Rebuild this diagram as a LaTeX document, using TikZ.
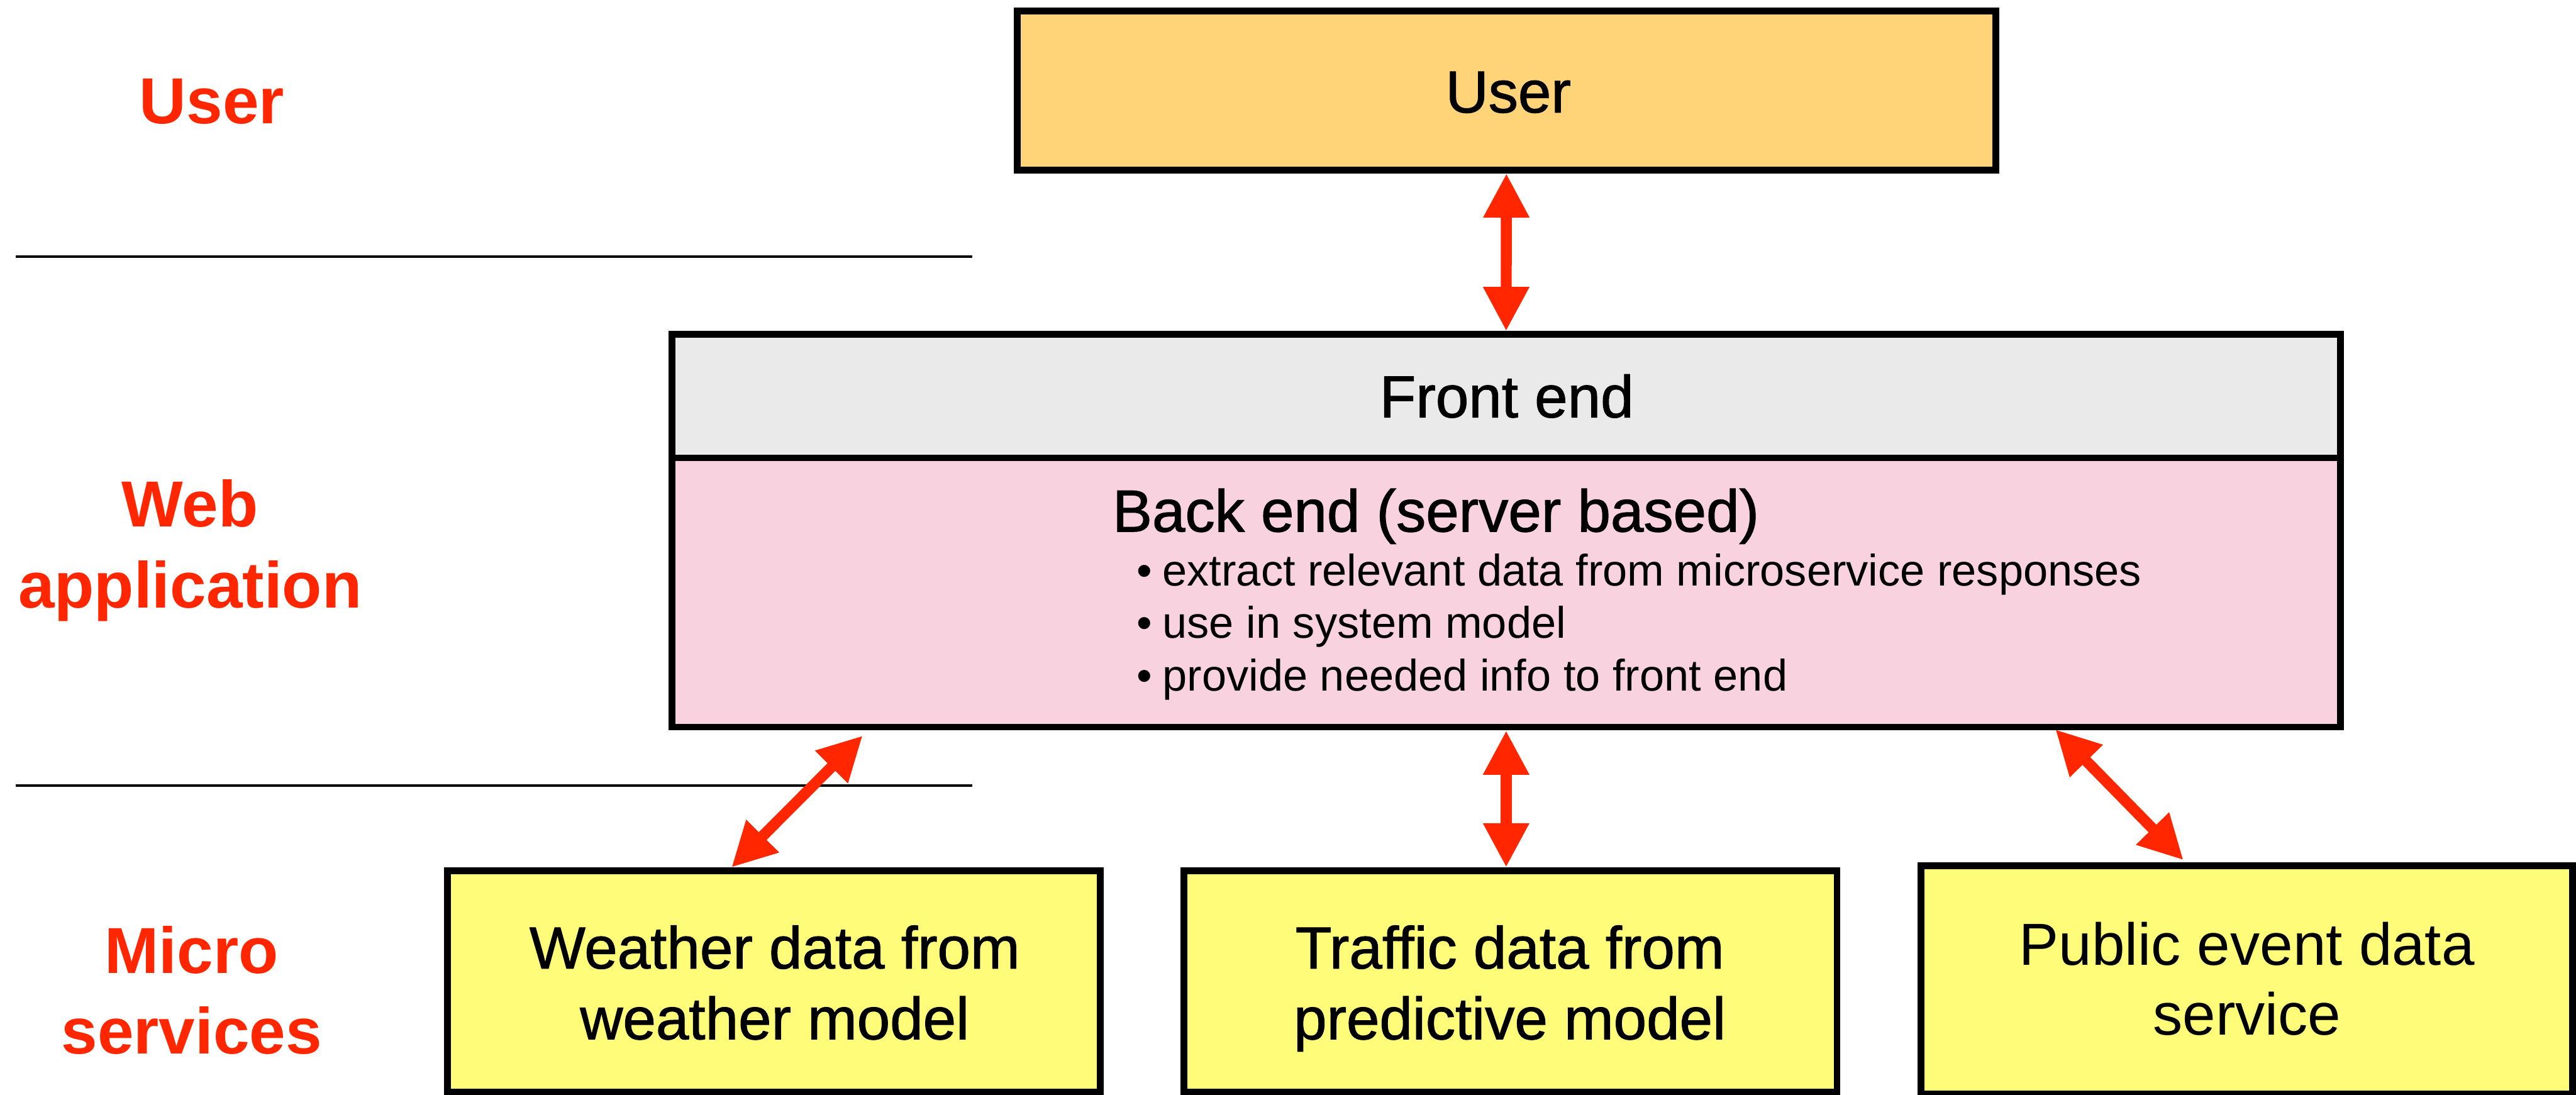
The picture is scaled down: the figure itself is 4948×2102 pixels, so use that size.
\documentclass[tikz,border=0pt]{standalone}
\usepackage{fontspec}
\setmainfont{Liberation Sans}
\newfontfamily\mediumsans[FakeBold=1.2]{Liberation Sans}
\usetikzlibrary{arrows.meta}
\definecolor{layerred}{HTML}{FF2600}
\definecolor{userfill}{HTML}{FFD479}
\definecolor{frontfill}{HTML}{EAEAEA}
\definecolor{backfill}{HTML}{F8D2DE}
\definecolor{servicefill}{HTML}{FFFC79}
\begin{document}
\begin{tikzpicture}[x=1pt, y=-1pt,
  panel/.style={draw=black, line width=13pt, inner sep=0pt, outer sep=6.5pt},
  boxtext/.style={inner sep=0pt, font=\mediumsans\fontsize{114pt}{136pt}\selectfont, align=center},
  plaintext/.style={inner sep=0pt, font=\fontsize{114pt}{134pt}\selectfont, align=center},
  layer/.style={inner sep=0pt, text=layerred, font=\bfseries\fontsize{125pt}{155pt}\selectfont, align=center},
  flow/.style={draw=layerred, line width=21pt,
    {Triangle[width=83pt,length=85pt]}-{Triangle[width=83pt,length=85pt]}},
  divider/.style={draw=black, line width=5pt}]

  % page frame
  \fill[white] (0,0) rectangle (4948,2102);
  \path[use as bounding box] (0,0) rectangle (4948,2102);

  % layer separators
  \coordinate (sepAL) at (30,493);
  \coordinate (sepAR) at (1868,493);
  \coordinate (sepBL) at (30,1508.5);
  \coordinate (sepBR) at (1868,1508.5);
  \draw[divider] (sepAL) -- (sepAR);
  \draw[divider] (sepBL) -- (sepBR);

  % layer names (multi-line nodes: base anchor sits on the last line)
  \node[layer, anchor=base] (lbluser) at (407,237) {User};
  \node[layer, anchor=base] (lblweb) at (365,1167) {Web\\application};
  \node[layer, anchor=base] (lblmicro) at (368,2024) {Micro\\services};

  % user
  \node[panel, fill=userfill, minimum width=1880pt, minimum height=305pt] (user) at (2893.5,174) {};
  \node[boxtext, anchor=base] (usertext) at (2897,216) {User};

  % web application
  \node[panel, fill=frontfill, minimum width=3205pt, minimum height=237pt] (front) at (2893,761) {};
  \node[panel, fill=backfill, minimum width=3205pt, minimum height=517pt] (back) at (2893,1138) {};
  \node[boxtext, anchor=base] (fronttext) at (2894,801.5) {Front end};
  \node[boxtext, anchor=base] (backtext) at (2758,1021) {Back end (server based)};
  \node[anchor=base west, align=left, inner sep=0pt,
        font=\fontsize{85pt}{101pt}\selectfont] (backlist) at (2183,1327)
    {\makebox[50pt][l]{•}extract relevant data from microservice responses\\
     \makebox[50pt][l]{•}use in system model\\
     \makebox[50pt][l]{•}provide needed info to front end};

  % micro services
  \node[panel, fill=servicefill, minimum width=1254pt, minimum height=425pt] (weather) at (1486.5,1885) {};
  \node[panel, fill=servicefill, minimum width=1254pt, minimum height=425pt] (traffic) at (2901.5,1885) {};
  \node[panel, fill=servicefill, minimum width=1252pt, minimum height=439pt] (public) at (4315.5,1882) {};
  \node[boxtext, anchor=base] (weathertext) at (1488,1996) {Weather data from\\weather model};
  \node[boxtext, anchor=base] (traffictext) at (2900,1996) {Traffic data from\\predictive model};
  \node[plaintext, anchor=base] (publictext) at (4316,1988) {Public event data\\service};

  % data flows
  \draw[flow] (user.south) -- (front.north);
  \draw[flow] (back.south) -- (back.south |- traffic.north);
  \draw[flow] ([shift={(373,10)}]back.south west) -- ([shift={(552,0)}]weather.north west);
  \draw[flow] ([shift={(-554,-2)}]back.south east) -- ([shift={(511,-4)}]public.north west);
\end{tikzpicture}
\end{document}
